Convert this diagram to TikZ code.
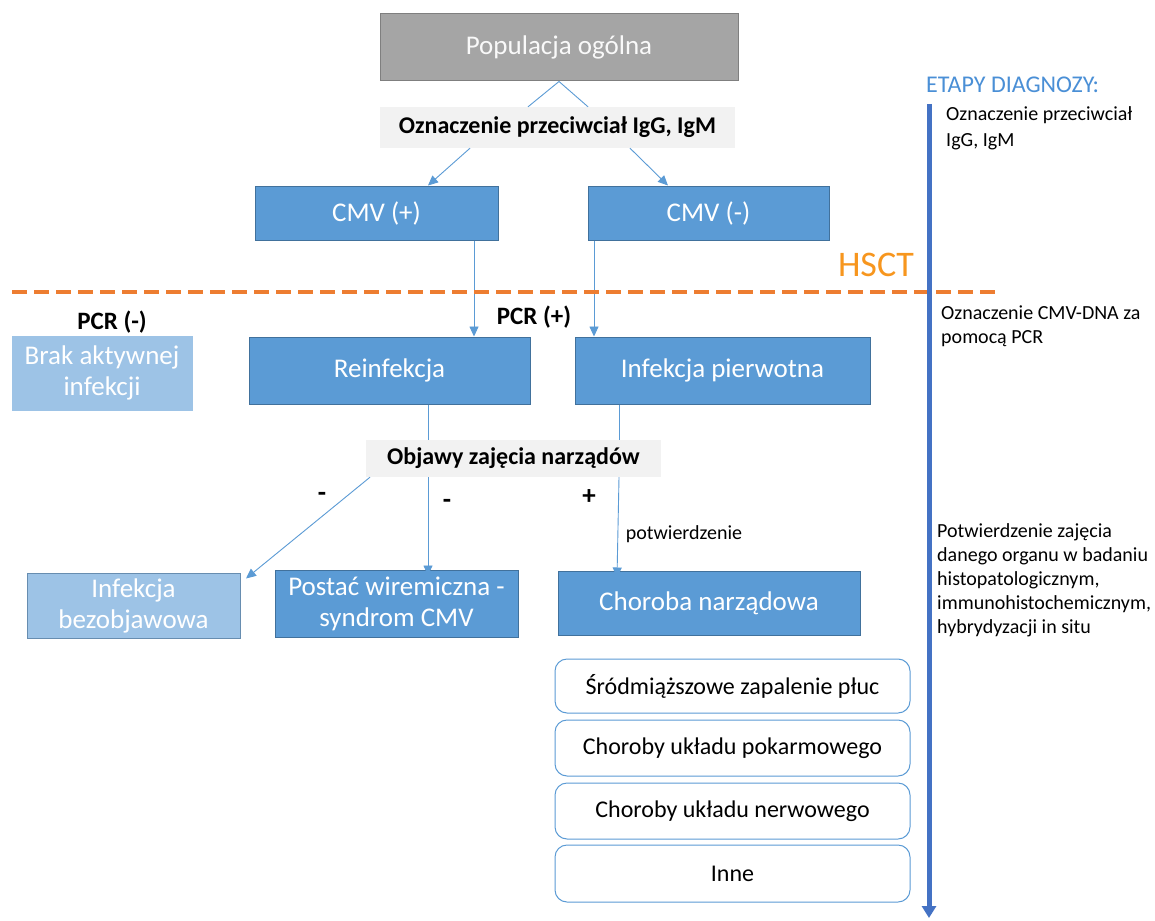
\documentclass[tikz,border=0pt]{standalone}
\usepackage{fontspec}
\setmainfont{Carlito}
\usetikzlibrary{arrows.meta}
\definecolor{cblue}{HTML}{5B9BD5}
\definecolor{cblueb}{HTML}{41719C}
\definecolor{clight}{HTML}{9DC3E6}
\definecolor{cgray}{HTML}{A5A5A5}
\definecolor{cgrayb}{HTML}{7F7F7F}
\definecolor{clab}{HTML}{F2F2F2}
\definecolor{corange}{HTML}{ED7D31}
\definecolor{chsct}{HTML}{F7961E}
\definecolor{cdark}{HTML}{4472C4}
\definecolor{cetap}{HTML}{4A8FD6}
\definecolor{cline}{HTML}{5B9BD5}
\begin{document}
\begin{tikzpicture}[x=1pt,y=-1pt,
  bx/.style={draw=cblueb, fill=cblue, line width=1pt, text=white, align=center, inner sep=0pt, font=\fontsize{27}{31}\selectfont},
  lbx/.style={bx, fill=clight, draw=clight},
  gbx/.style={bx, fill=cgray, draw=cgrayb, text=white!95!gray},
  lab/.style={fill=clab, draw=none, inner sep=0pt, font=\bfseries\fontsize{24}{28}\selectfont},
  rbx/.style={draw=cblue, line width=1pt, rounded corners=12pt, fill=white, inner sep=0pt, font=\fontsize{24}{28}\selectfont},
  ln/.style={draw=cline, line width=0.9pt},
  arr/.style={ln, -{Triangle[width=9pt,length=10pt]}},
  sgn/.style={font=\bfseries\fontsize{27}{30}\selectfont},
  pcr/.style={font=\bfseries\fontsize{25}{28}\selectfont},
  side/.style={anchor=north west, align=left, inner sep=0pt, font=\fontsize{20}{24}\selectfont}
]
\useasboundingbox[fill=white] (0,0) rectangle (1155,920);

% main boxes
\node[gbx, minimum width=358, minimum height=67] (pop) at (559,47.5) {Populacja ogólna};
\node[lab, minimum width=355, minimum height=41] (lab1) at (557.5,127.5) {Oznaczenie przeciwciał IgG, IgM};
\node[bx, minimum width=243, minimum height=54] (cmvp) at (376.5,213) {CMV (+)};
\node[bx, minimum width=241, minimum height=54] (cmvm) at (708.5,213) {CMV (-)};
\node[lbx, minimum width=180, minimum height=74] (brak) at (102,373) {Brak aktywnej\\infekcji};
\node[bx, minimum width=281, minimum height=67] (reinf) at (389.5,370.5) {Reinfekcja};
\node[bx, minimum width=295, minimum height=67] (pierw) at (722.5,370.5) {Infekcja pierwotna};
\node[lab, minimum width=295, minimum height=37] (lab2) at (513.5,458.5) {Objawy zajęcia narządów};
\node[lbx, draw=cblueb!80, minimum width=213, minimum height=65] (bezob) at (133.5,605.5) {Infekcja\\bezobjawowa};
\node[bx, minimum width=243, minimum height=67] (wirem) at (396.5,603.5) {Postać wiremiczna -\\syndrom CMV};
\node[bx, minimum width=302, minimum height=64] (chor) at (709,603) {Choroba narządowa};
\node[rbx, minimum width=355, minimum height=54] (r1) at (732.5,686) {Śródmiąższowe zapalenie płuc};
\node[rbx, minimum width=355, minimum height=56] (r2) at (732.5,748) {Choroby układu pokarmowego};
\node[rbx, minimum width=355, minimum height=56] (r3) at (732.5,811) {Choroby układu nerwowego};
\node[rbx, minimum width=355, minimum height=57] (r4) at (732.5,873.5) {Inne};

% helper x positions
\coordinate (xa) at (528,0);
\coordinate (xb) at (588,0);
\coordinate (xc) at (470,0);
\coordinate (xd) at (428,0);
\coordinate (xe) at (630,0);
\coordinate (xf) at (668,0);
\coordinate (xg) at (474,0);
\coordinate (xh) at (594,0);
\coordinate (xi) at (619,0);
\coordinate (xj) at (370,0);
\coordinate (xk) at (246,0);
\coordinate (xl) at (617,0);

% connectors
\draw[ln] (pop.south) -- (lab1.north -| xa);
\draw[ln] (pop.south) -- (lab1.north -| xb);
\draw[arr] (lab1.south -| xc) -- (cmvp.north -| xd);
\draw[arr] (lab1.south -| xe) -- (cmvm.north -| xf);
\draw[arr] (cmvp.south -| xg) -- (reinf.north -| xg);
\draw[arr] (cmvm.south -| xh) -- (pierw.north -| xh);
\draw[ln] (reinf.south -| xd) -- (lab2.north -| xd);
\draw[ln] (pierw.south -| xi) -- (lab2.north -| xi);
\draw[arr] (lab2.south -| xj) -- ([yshift=-6pt]bezob.north -| xk);
\draw[arr] (lab2.south -| xd) -- ([yshift=-6pt]wirem.north -| xd);
\draw[arr] (lab2.south -| xi) -- ([yshift=-7pt]chor.north -| xl);

% labels
\node[sgn] (m1) at (322,497) {-};
\node[sgn] (m2) at (447,504) {-};
\node[sgn] (p1) at (589,497) {+};
\node[font=\fontsize{20}{24}\selectfont] (potw) at (684,534) {potwierdzenie};
\node[pcr] (pcrm) at (112,322) {PCR (-)};
\node[pcr] (pcrp) at (534,317) {PCR (+)};

% HSCT line
\coordinate (h1) at (12,292);
\coordinate (h2) at (1000,292);
\draw[corange, line width=4pt, dash pattern=on 15pt off 7pt] (h1) -- (h2);
\node[text=chsct, font=\fontsize{36}{40}\selectfont] (hsct) at (876,265) {HSCT};

% right timeline
\node[text=cetap, anchor=west, inner sep=0pt, font=\fontsize{24}{28}\selectfont] (etap) at (926,85) {ETAPY DIAGNOZY:};
\coordinate (t1) at (929,104);
\coordinate (t2) at (929,918);
\draw[cdark, line width=5pt, -{Triangle[width=14pt,length=12pt]}] (t1) -- (t2);
\node[side, font=\fontsize{20}{26}\selectfont] (s1) at (946,106) {Oznaczenie przeciwciał\\IgG, IgM};
\node[side] (s2) at (941,306) {Oznaczenie CMV-DNA za\\pomocą PCR};
\node[side] (s3) at (937,523) {Potwierdzenie zajęcia\\danego organu w badaniu\\histopatologicznym,\\immunohistochemicznym,\\hybrydyzacji in situ};
\end{tikzpicture}
\end{document}
